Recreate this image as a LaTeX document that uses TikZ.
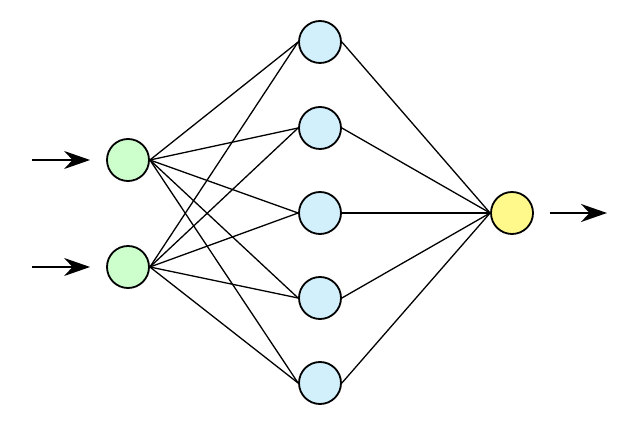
\documentclass[tikz,border=0pt]{standalone}
\usetikzlibrary{arrows.meta}
\begin{document}
\begin{tikzpicture}[x=1pt,y=-1pt,
  neuron/.style={circle,draw=black,line width=1.8pt,minimum size=42pt,inner sep=0pt},
  inp/.style={neuron,fill=green!20!white},
  hid/.style={neuron,fill=cyan!18!white},
  outp/.style={neuron,fill=yellow!45!white},
  link/.style={line width=1.3pt},
  io/.style={line width=1.8pt,-{Stealth[length=26pt,width=18pt]}}]
\useasboundingbox (0,0) rectangle (640,427);
\node[inp] (i1) at (128,160) {};
\node[inp] (i2) at (128,267) {};
\foreach \k/\y in {1/42,2/128,3/213,4/298,5/383} \node[hid] (h\k) at (320,\y) {};
\node[outp] (o) at (512,213) {};
\coordinate (a1) at (32,160);
\coordinate (a2) at (32,267);
\coordinate (b) at (607,213);
\foreach \i in {1,2} {
  \draw[io] (a\i) -- ([xshift=-16pt]i\i.west);
  \foreach \k in {1,...,5} \draw[link] (i\i.east) -- (h\k.west);
}
\foreach \k in {1,...,5} \draw[link] (h\k.east) -- (o.west);
\draw[io] ([xshift=16pt]o.east) -- (b);
\end{tikzpicture}
\end{document}
